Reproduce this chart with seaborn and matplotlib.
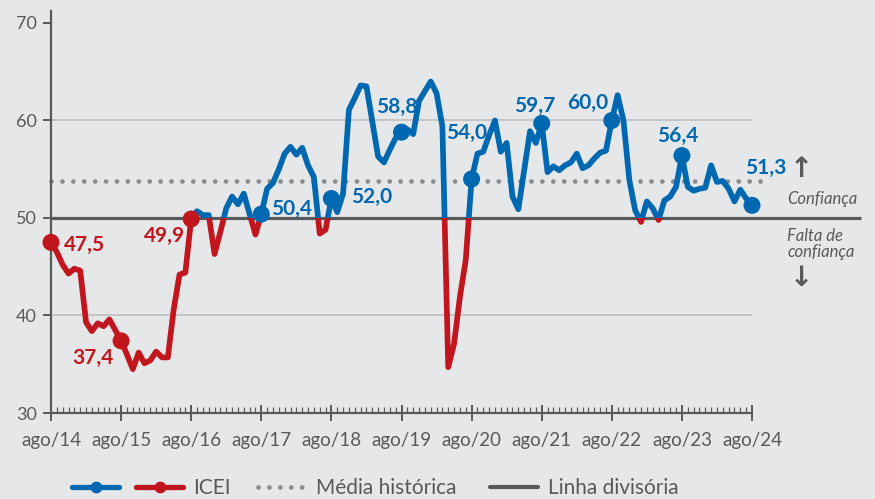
import numpy as np
import pandas as pd
import matplotlib
matplotlib.use("Agg")
import matplotlib.pyplot as plt
from matplotlib.patches import Rectangle
from matplotlib.lines import Line2D
from matplotlib.legend_handler import HandlerTuple
import seaborn as sns

# ---------------- data ----------------
months = list(range(121))  # ago/14 ... ago/24, monthly
icei = [
    47.5, 46.5, 45.2, 44.3, 44.8, 44.6, 39.3, 38.4, 39.2, 38.9, 39.6, 38.5,  # ago/14 - jul/15
    37.4, 36.0, 34.5, 36.2, 35.1, 35.4, 36.3, 35.7, 35.7, 40.6, 44.2, 44.4,  # ago/15 - jul/16
    49.9, 50.7, 50.3, 50.3, 46.3, 48.6, 51.0, 52.2, 51.4, 52.5, 50.4, 48.3,  # ago/16 - jul/17
    50.4, 53.0, 53.6, 55.0, 56.6, 57.3, 56.5, 57.2, 55.4, 54.2, 48.4, 48.8,  # ago/17 - jul/18
    52.0, 50.6, 52.5, 61.1, 62.3, 63.6, 63.5, 59.9, 56.3, 55.7, 57.0, 58.2,  # ago/18 - jul/19
    58.8, 59.1, 58.6, 62.0, 63.0, 64.0, 62.8, 59.4, 34.7, 37.1, 41.9, 45.7,  # ago/19 - jul/20
    54.0, 56.6, 56.8, 58.5, 60.0, 56.8, 57.7, 52.2, 50.9, 54.9, 58.9, 57.7,  # ago/20 - jul/21
    59.7, 54.7, 55.3, 54.9, 55.4, 55.7, 56.6, 55.1, 55.4, 56.1, 56.7, 56.9,  # ago/21 - jul/22
    60.0, 62.6, 60.0, 53.9, 50.8, 49.6, 51.7, 51.0, 49.8, 51.8, 52.2, 53.2,  # ago/22 - jul/23
    56.4, 53.2, 52.8, 53.0, 53.1, 55.4, 53.7, 53.8, 53.0, 51.7, 52.9, 52.0,  # ago/23 - jul/24
    51.3,                                                                    # ago/24
]
tick_pos = [0, 12, 24, 36, 48, 60, 72, 84, 96, 108, 120]
tick_labels = ["ago/14", "ago/15", "ago/16", "ago/17", "ago/18", "ago/19",
               "ago/20", "ago/21", "ago/22", "ago/23", "ago/24"]
highlight_idx = [0, 12, 24, 36, 48, 60, 72, 84, 96, 108, 120]
media_historica = 53.8
linha_divisoria = 50.0
legend_labels = ["ICEI", "Média histórica", "Linha divisória"]
zone_labels = ["Confiança", "Falta de\nconfiança"]

# ---------------- style ----------------
BG = "#e6e7e9"
BLUE = "#0067b1"
RED = "#c1161e"
GRID = "#bdbec0"
DIV = "#58595b"
DOT = "#8a8b8d"
TXT = "#58595b"

sns.set_theme(style="white", rc={"axes.facecolor": BG, "figure.facecolor": BG})
plt.rcParams["font.family"] = ["Lato", "DejaVu Sans"]

# label offsets in pixels (dx, dy, ha)
label_style = [(13, -3, "left"), (-8, -17, "right"), (-6, -17, "right"),
               (10, 5, "left"), (20, 2, "left"), (-5, 25, "center"),
               (-5, 46, "center"), (-7, 17, "center"), (-4, 18, "right"),
               (-4, 20, "center"), (-7, 37, "left")]

df = pd.DataFrame({"m": months, "v": icei})

fig = plt.figure(figsize=(8.75, 4.99), dpi=100)
ax = fig.add_axes([51 / 875, 86 / 499, 701 / 875, 401.7 / 499])
ax.set_xlim(0, 120)
ax.set_ylim(30, 71.2)

# gridlines at 40 / 60
for g in [40, 60]:
    ax.axhline(g, color=GRID, lw=1.2, zorder=1)

# historical mean (dotted) and dividing line
ax.plot([0, 121.8], [media_historica] * 2, color=DOT, lw=3.4,
        linestyle=(0, (0.01, 2.3)), dash_capstyle="round", clip_on=False, zorder=2)
ax.plot([0, 138.6], [linha_divisoria] * 2, color=DIV, lw=2.3,
        clip_on=False, zorder=2, solid_capstyle="butt")

# line: blue above 50, red below 50 (clipped copies)
for color, y0, h in [(BLUE, 50, 100), (RED, 0, 50)]:
    n_before = len(ax.lines)
    sns.lineplot(data=df, x="m", y="v", color=color, lw=4.1, ax=ax,
                 zorder=3, solid_joinstyle="round", solid_capstyle="round")
    line = ax.lines[n_before]
    clip = Rectangle((-10, y0), 200, h, transform=ax.transData)
    line.set_clip_path(clip)

# highlight markers
hl = df.iloc[highlight_idx].copy()
hl["grp"] = np.where(hl["v"] >= 50, "a", "b")
sns.scatterplot(data=hl, x="m", y="v", hue="grp", palette={"a": BLUE, "b": RED},
                s=150, edgecolor="none", legend=False, ax=ax, zorder=4, clip_on=False)

for (i, (dx, dy, ha)) in zip(highlight_idx, label_style):
    v = icei[i]
    ax.annotate(f"{v:.1f}".replace(".", ","), (months[i], v),
                xytext=(dx, dy), textcoords="offset pixels", ha=ha, va="center",
                color=BLUE if v >= 50 else RED, fontsize=15, fontweight="bold",
                zorder=5)

# axes styling
for s in ["top", "right"]:
    ax.spines[s].set_visible(False)
for s in ["left", "bottom"]:
    ax.spines[s].set_color(DIV)
    ax.spines[s].set_linewidth(1.6)
ax.set_yticks([30, 40, 50, 60, 70])
ax.set_xticks(tick_pos)
ax.set_xticklabels(tick_labels)
ax.set_xticks(months, minor=True)
ax.tick_params(axis="y", direction="out", length=6, width=1.4, color=DIV,
               labelsize=13, labelcolor=TXT, pad=4, left=True)
ax.tick_params(axis="x", which="major", direction="inout", length=12, width=1.4,
               color=DIV, labelsize=13.5, labelcolor=TXT, pad=8, bottom=True)
ax.tick_params(axis="x", which="minor", direction="in", length=4, width=0.9,
               color=DIV, bottom=True)
ax.set_xlabel("")
ax.set_ylabel("")

# zone annotations on the right
ax.text(1.07, (55.0 - 30) / 41.2, "↑", transform=ax.transAxes,
        ha="center", va="center", fontsize=20, color=TXT, fontweight="bold",
        family="DejaVu Sans")
ax.text(1.05, (51.95 - 30) / 41.2, zone_labels[0], transform=ax.transAxes,
        ha="left", va="center", fontsize=12, color=TXT, style="italic")
ax.text(1.05, (47.35 - 30) / 41.2, zone_labels[1], transform=ax.transAxes,
        ha="left", va="center", fontsize=12, color=TXT, style="italic",
        linespacing=1.0)
ax.text(1.07, (43.85 - 30) / 41.2, "↓", transform=ax.transAxes,
        ha="center", va="center", fontsize=20, color=TXT, fontweight="bold",
        family="DejaVu Sans")

# legend (two pieces so the ICEI pair gets a wider handle)
h_blue = Line2D([], [], color=BLUE, lw=3.8, marker="o", markersize=7.5)
h_red = Line2D([], [], color=RED, lw=3.8, marker="o", markersize=7.5)
h_dot = Line2D([], [], color=DOT, lw=3.4, linestyle=(0, (0.01, 2.3)),
               dash_capstyle="round")
h_div = Line2D([], [], color=DIV, lw=3)
common = dict(frameon=False, fontsize=15, labelcolor=TXT, borderpad=0,
              handletextpad=0.48, borderaxespad=0)
leg1 = fig.legend([(h_blue, h_red)], legend_labels[:1],
                  handler_map={tuple: HandlerTuple(ndivide=None, pad=0.82)},
                  loc="center left", bbox_to_anchor=(72 / 875, 11 / 499),
                  handlelength=5.34, **common)
leg2 = fig.legend([h_dot, h_div], legend_labels[1:], ncol=2,
                  loc="center left", bbox_to_anchor=(258 / 875, 11 / 499),
                  handlelength=2.3, columnspacing=1.63, **common)

fig.savefig("out.png", dpi=100, facecolor=BG)
